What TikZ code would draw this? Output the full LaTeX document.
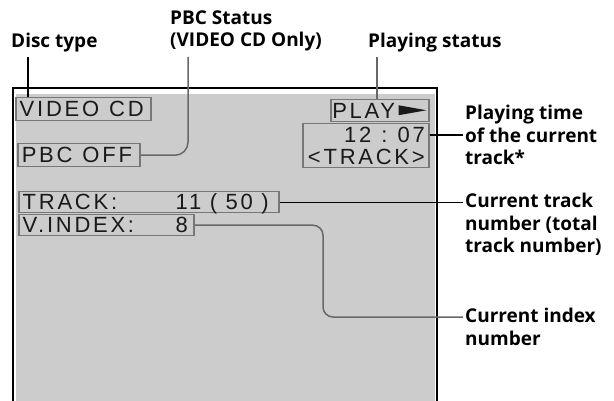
\documentclass[tikz,border=0pt]{standalone}
\usepackage{fontspec}
\setmainfont{Liberation Sans}
\newfontfamily\labfont{Open Sans}
\newfontfamily\scrfont[LetterSpace=12.5]{Liberation Sans}
\usetikzlibrary{calc}
\definecolor{scrgray}{HTML}{CCCCCC}
\definecolor{boxgray}{HTML}{777777}
\definecolor{leadgray}{HTML}{686868}
\newcommand{\gapsp}{\kern10pt\relax}
\newcommand{\gapsm}{\kern8.5pt\relax}
\begin{document}
\begin{tikzpicture}[x=1pt,y=-1pt,
  scrbox/.style={draw=boxgray, line width=1.5pt, fill=scrgray, inner xsep=4pt, inner ysep=0pt,
    font=\scrfont\fontsize{22}{22}\selectfont, text=black!90, anchor=north west, align=left,
    text height=15.5pt, text depth=0pt},
  lab/.style={font=\labfont\bfseries\fontsize{19}{22.5}\selectfont, text=black, inner sep=0pt, align=left},
  leadk/.style={draw=black, line width=1.2pt},
  leadg/.style={draw=leadgray, line width=1.5pt}]
\useasboundingbox (0,0) rectangle (614,401);
% screen
\fill[scrgray] (15.5,94) rectangle (435,401);
\draw[line width=1.3pt] (13,402) -- (13,88) -- (437,88) -- (437,402);
% boxes
\node[scrbox, text width=127pt, minimum height=23pt] (vcd) at (15,97) {\mbox{VIDEO\gapsp CD}};
\node[scrbox, text width=114pt, minimum height=23pt] (pbc) at (17,143) {\mbox{PBC\gapsp OFF}};
\node[scrbox, text width=252pt, minimum height=21pt] (trk) at (18,191) {\mbox{\makebox[153pt][l]{TRACK:}11\gapsm(\gapsm 50\gapsm)}};
\node[scrbox, text width=167pt, minimum height=21pt] (vidx) at (18,214) {\mbox{\makebox[153pt][l]{V.INDEX:}8}};
\node[scrbox, text width=95pt, inner xsep=1.5pt, minimum height=22pt] (play) at (330,99) {PLAY};
\node[scrbox, text width=118pt, minimum height=42pt, align=right, text height=, text depth=, inner ysep=3pt] (time) at (302,123) {12\gapsp:\gapsp 07\\<TRACK>};
\fill[black!90] ($(play.east)+(-31,-5.5)$) -- ($(play.east)+(-3,-0.5)$) -- ($(play.east)+(-31,4.5)$) -- cycle;
% labels
\node[lab, anchor=west] (disc) at (11,43) {Disc type};
\node[lab, anchor=west] (pbcs) at (170,31) {PBC Status\\(VIDEO CD Only)};
\node[lab, anchor=west] (pstat) at (368,43) {Playing status};
\node[lab, anchor=west] (pt) at (465,135) {Playing time\\of the current\\track*};
\node[lab, anchor=north west] (ct) at (465,193) {Current track\\number (total\\track number)};
\node[lab, anchor=north west] (ci) at (465,308) {Current index\\number};
% leaders
\coordinate (discend) at (28,57);
\coordinate (pbcend) at (188,57);
\coordinate (playend) at (377,57);
\coordinate (timeend) at (463,135);
\coordinate (trkend) at (463,202);
\coordinate (vturn) at (323,225);
\coordinate (ciend) at (463,317);
\draw[leadk] (vcd.north west -| discend) -- (discend);
\draw[leadg, rounded corners=13pt] (pbc.east) -- (pbc.east -| pbcend) -- (pbcend);
\draw[leadg] (play.north -| playend) -- (playend);
\draw[leadk] (time.east |- timeend) -- (timeend);
\draw[leadk] (trk.east) -- (trk.east -| trkend);
\draw[leadg, rounded corners=10pt] (vidx.east) -- (vidx.east -| vturn) -- (vturn |- ciend) -- (ciend);
\end{tikzpicture}
\end{document}
